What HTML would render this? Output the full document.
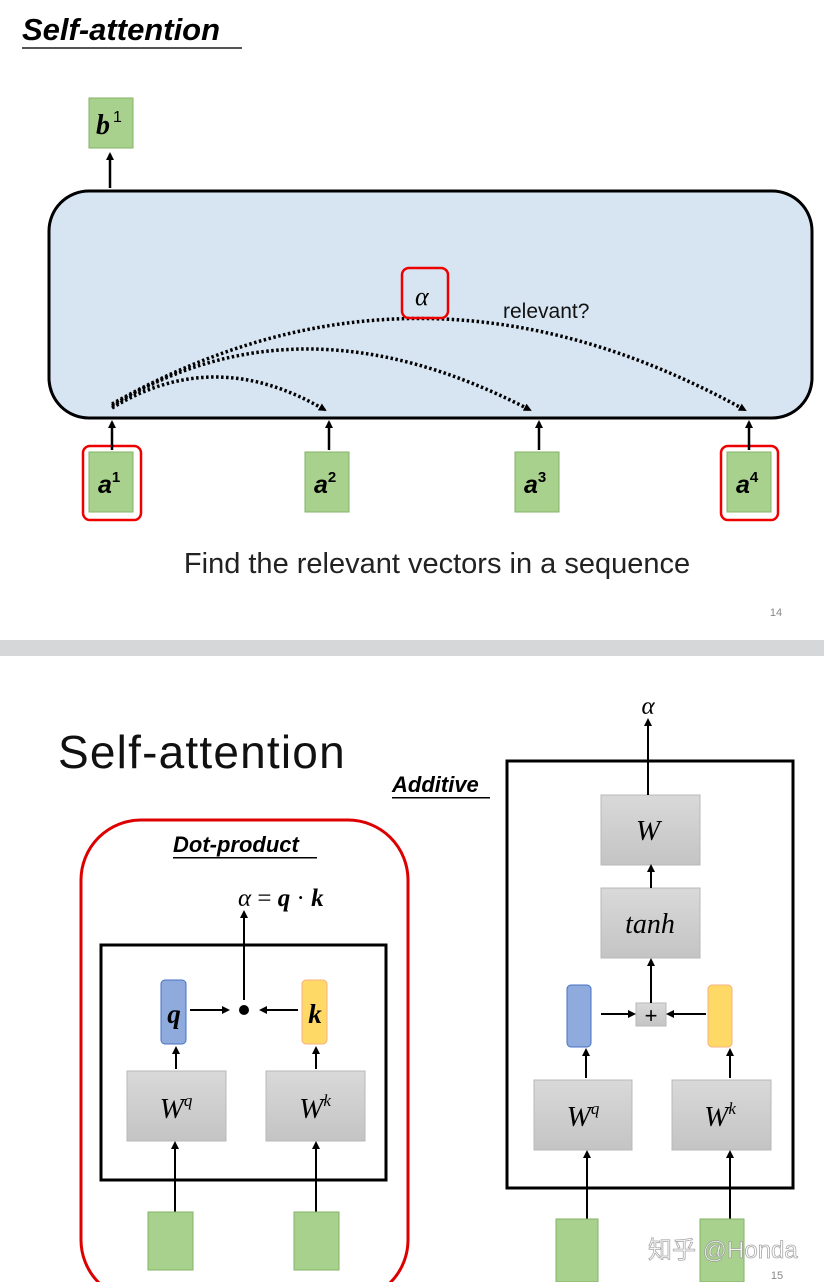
<!DOCTYPE html>
<html><head><meta charset="utf-8"><style>
html,body{margin:0;padding:0;background:#fff;}
svg{display:block;}
text{font-family:"Liberation Sans",sans-serif;}
.m{font-family:"Liberation Serif","DejaVu Serif",serif;font-style:italic;}
</style></head><body>
<svg width="824" height="1282" viewBox="0 0 824 1282" xmlns="http://www.w3.org/2000/svg">
<defs>
<marker id="ah" markerWidth="8" markerHeight="8" refX="6" refY="4" orient="auto" markerUnits="userSpaceOnUse"><path d="M0,0 L8,4 L0,8 z" fill="#000"/></marker>
<linearGradient id="gg" x1="0" y1="0" x2="0" y2="1"><stop offset="0" stop-color="#d9d9d9"/><stop offset="1" stop-color="#c4c4c4"/></linearGradient>
</defs>
<rect width="824" height="1282" fill="#fff"/>
<text x="22" y="40" font-size="31" font-weight="bold" font-style="italic" fill="#000">Self-attention</text>
<rect x="22" y="47" width="220" height="2" fill="#555"/>
<rect x="89" y="98" width="44" height="50" fill="#a9d18e" stroke="#82b366"/>
<text x="96" y="134" class="m" font-size="28" font-weight="bold">b</text><text x="113" y="122" font-family="Liberation Serif" font-size="16">1</text>
<line x1="110" y1="188" x2="110" y2="154" stroke="#000" stroke-width="2.5" marker-end="url(#ah)"/>
<rect x="49" y="191" width="763" height="227" rx="40" fill="#d7e5f3" stroke="#000" stroke-width="3"/>
<g fill="none" stroke="#000" stroke-width="3.5" stroke-dasharray="2.5 2.5">
<path d="M112,408 Q215,345 325,410" marker-end="url(#ah)"/>
<path d="M112,406 Q300,290 530,410" marker-end="url(#ah)"/>
<path d="M112,404 Q420,230 745,410" marker-end="url(#ah)"/>
</g>
<rect x="402" y="268" width="46" height="50" rx="7" fill="none" stroke="#e00" stroke-width="2.5"/>
<text x="415" y="305" class="m" font-size="26">α</text>
<text x="503" y="318" font-size="21" fill="#111">relevant?</text>
<g fill="#a9d18e" stroke="#82b366">
<rect x="89" y="452" width="44" height="60"/><rect x="305" y="452" width="44" height="60"/>
<rect x="515" y="452" width="44" height="60"/><rect x="727" y="452" width="44" height="60"/>
</g>
<rect x="83" y="446" width="58" height="74" rx="7" fill="none" stroke="#e00" stroke-width="2.5"/>
<rect x="721" y="446" width="57" height="74" rx="7" fill="none" stroke="#e00" stroke-width="2.5"/>
<g class="m" font-size="25" font-weight="bold">
<text x="98" y="493">a<tspan font-size="15" dy="-11" font-style="normal">1</tspan></text>
<text x="314" y="493">a<tspan font-size="15" dy="-11" font-style="normal">2</tspan></text>
<text x="524" y="493">a<tspan font-size="15" dy="-11" font-style="normal">3</tspan></text>
<text x="736" y="493">a<tspan font-size="15" dy="-11" font-style="normal">4</tspan></text>
</g>
<g stroke="#000" stroke-width="2.5" marker-end="url(#ah)">
<line x1="112" y1="450" x2="112" y2="422"/><line x1="329" y1="450" x2="329" y2="422"/>
<line x1="539" y1="450" x2="539" y2="422"/><line x1="749" y1="450" x2="749" y2="422"/>
</g>
<text x="437" y="573" font-size="29" text-anchor="middle" fill="#222">Find the relevant vectors in a sequence</text>
<text x="776" y="616" font-size="11" fill="#888" text-anchor="middle">14</text>
<rect x="0" y="640" width="824" height="16" fill="#d6d7d9"/>
<text x="58" y="768" font-size="46" fill="#111" letter-spacing="1.2">Self-attention</text>
<text x="392" y="792" font-size="22" font-weight="bold" font-style="italic">Additive</text>
<rect x="392" y="797" width="98" height="1.5" fill="#000"/>
<rect x="507" y="761" width="286" height="427" fill="none" stroke="#000" stroke-width="3"/>
<g fill="url(#gg)" stroke="#b8b8b8">
<rect x="601" y="795" width="99" height="70"/><rect x="601" y="888" width="99" height="70"/>
<rect x="636" y="1003" width="30" height="23"/>
<rect x="534" y="1080" width="98" height="70"/><rect x="672" y="1080" width="99" height="70"/>
<rect x="127" y="1071" width="99" height="70"/><rect x="266" y="1071" width="99" height="70"/>
</g>
<rect x="567" y="985" width="24" height="62" rx="4" fill="#8faadc" stroke="#4472c4"/>
<rect x="708" y="985" width="24" height="62" rx="4" fill="#ffd966" stroke="#f4b183"/>
<text x="648" y="714" class="m" font-size="25" text-anchor="middle">α</text>
<text x="648" y="840" class="m" font-size="29" text-anchor="middle">W</text>
<text x="650" y="933" class="m" font-size="28" text-anchor="middle">tanh</text>
<text x="651" y="1023" font-size="22" text-anchor="middle">+</text>
<text x="583" y="1126" class="m" font-size="29" text-anchor="middle">W<tspan font-size="17" dy="-12">q</tspan></text>
<text x="720" y="1126" class="m" font-size="29" text-anchor="middle">W<tspan font-size="17" dy="-12">k</tspan></text>
<g stroke="#000" stroke-width="2" marker-end="url(#ah)">
<line x1="648" y1="795" x2="648" y2="720"/>
<line x1="651" y1="888" x2="651" y2="866"/>
<line x1="651" y1="1003" x2="651" y2="960"/>
<line x1="601" y1="1014" x2="634" y2="1014"/>
<line x1="706" y1="1014" x2="668" y2="1014"/>
<line x1="586" y1="1078" x2="586" y2="1050"/>
<line x1="730" y1="1078" x2="730" y2="1050"/>
<line x1="587" y1="1219" x2="587" y2="1152"/>
<line x1="730" y1="1219" x2="730" y2="1152"/>
</g>
<rect x="556" y="1219" width="42" height="63" fill="#a9d18e" stroke="#82b366"/>
<rect x="700" y="1219" width="44" height="63" fill="#a9d18e" stroke="#82b366"/>
<rect x="81" y="820" width="327" height="480" rx="60" fill="none" stroke="#d00" stroke-width="3"/>
<text x="173" y="852" font-size="22" font-weight="bold" font-style="italic">Dot-product</text>
<rect x="173" y="857" width="144" height="1.5" fill="#000"/>
<text x="238" y="906" class="m" font-size="25">α <tspan font-style="normal">=</tspan> <tspan font-weight="bold">q</tspan> <tspan font-style="normal">·</tspan> <tspan font-weight="bold">k</tspan></text>
<rect x="101" y="945" width="285" height="235" fill="none" stroke="#000" stroke-width="3"/>
<rect x="161" y="980" width="25" height="64" rx="4" fill="#8faadc" stroke="#4472c4"/>
<rect x="302" y="980" width="25" height="64" rx="4" fill="#ffd966" stroke="#f4b183"/>
<text x="174" y="1023" class="m" font-size="27" font-weight="bold" text-anchor="middle">q</text>
<text x="315" y="1023" class="m" font-size="27" font-weight="bold" text-anchor="middle">k</text>
<circle cx="244" cy="1010" r="5" fill="#000"/>
<text x="176" y="1118" class="m" font-size="29" text-anchor="middle">W<tspan font-size="17" dy="-12">q</tspan></text>
<text x="315" y="1118" class="m" font-size="29" text-anchor="middle">W<tspan font-size="17" dy="-12">k</tspan></text>
<g stroke="#000" stroke-width="2" marker-end="url(#ah)">
<line x1="244" y1="1000" x2="244" y2="912"/>
<line x1="190" y1="1010" x2="228" y2="1010"/>
<line x1="298" y1="1010" x2="261" y2="1010"/>
<line x1="176" y1="1069" x2="176" y2="1048"/>
<line x1="316" y1="1069" x2="316" y2="1048"/>
<line x1="175" y1="1212" x2="175" y2="1143"/>
<line x1="316" y1="1212" x2="316" y2="1143"/>
</g>
<rect x="148" y="1212" width="45" height="58" fill="#a9d18e" stroke="#82b366"/>
<rect x="294" y="1212" width="45" height="58" fill="#a9d18e" stroke="#82b366"/>
<text x="648" y="1258" font-family="Liberation Sans,'Noto Sans CJK SC',sans-serif" font-size="24" fill="#fff" stroke="#999" stroke-width="0.8" opacity="0.85">知乎 @Honda</text>
<text x="777" y="1279" font-size="11" fill="#888" text-anchor="middle">15</text>
</svg>
</body></html>
